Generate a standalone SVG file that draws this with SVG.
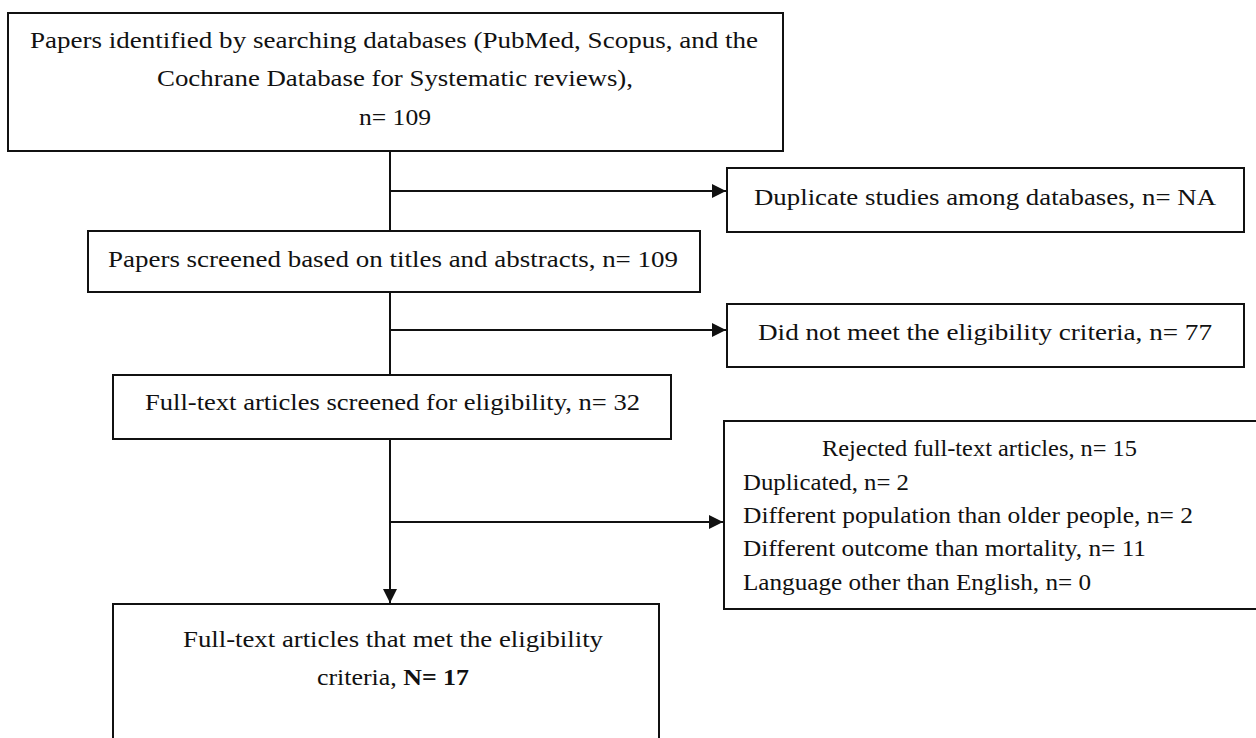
<svg xmlns="http://www.w3.org/2000/svg" width="1256" height="738" viewBox="0 0 1256 738">
<style>
.box{fill:#fff;stroke:#111;stroke-width:2}
.ln{fill:none;stroke:#111;stroke-width:2}
text{font-family:"Liberation Serif","Times New Roman",serif;font-size:24px;fill:#111}
.b{font-weight:bold}
</style>
<defs>
<marker id="ah" markerUnits="userSpaceOnUse" markerWidth="14" markerHeight="14" viewBox="0 0 14 14" refX="14" refY="7" orient="auto">
<path d="M0,0 L14,7 L0,14 Z" fill="#111"/>
</marker>
</defs>
<rect width="1256" height="738" fill="#fff"/>
<g id="connectors">
<line class="ln" x1="390" y1="151" x2="390" y2="231"/>
<line class="ln" x1="390" y1="292" x2="390" y2="375"/>
<line class="ln" x1="390" y1="439" x2="390" y2="603" marker-end="url(#ah)"/>
<line class="ln" x1="390" y1="191" x2="726" y2="191" marker-end="url(#ah)"/>
<line class="ln" x1="390" y1="330" x2="726" y2="330" marker-end="url(#ah)"/>
<line class="ln" x1="390" y1="522" x2="723" y2="522" marker-end="url(#ah)"/>
</g>
<g id="identified">
<rect class="box" x="8" y="13" width="775" height="138"/>
<text x="30" y="48" textLength="728" lengthAdjust="spacingAndGlyphs">Papers identified by searching databases (PubMed, Scopus, and the</text>
<text x="157" y="86" textLength="476" lengthAdjust="spacingAndGlyphs">Cochrane Database for Systematic reviews),</text>
<text x="359" y="125" textLength="72" lengthAdjust="spacingAndGlyphs">n= 109</text>
</g>
<g id="duplicates">
<rect class="box" x="727" y="168" width="517" height="64"/>
<text x="754" y="205" textLength="462" lengthAdjust="spacingAndGlyphs">Duplicate studies among databases, n= NA</text>
</g>
<g id="screened">
<rect class="box" x="88" y="231" width="612" height="61"/>
<text x="108" y="267" textLength="570" lengthAdjust="spacingAndGlyphs">Papers screened based on titles and abstracts, n= 109</text>
</g>
<g id="not-eligible">
<rect class="box" x="727" y="304" width="517" height="63"/>
<text x="758" y="340" textLength="454" lengthAdjust="spacingAndGlyphs">Did not meet the eligibility criteria, n= 77</text>
</g>
<g id="fulltext">
<rect class="box" x="113" y="375" width="558" height="64"/>
<text x="145" y="410" textLength="495" lengthAdjust="spacingAndGlyphs">Full-text articles screened for eligibility, n= 32</text>
</g>
<g id="rejected">
<rect class="box" x="724" y="421" width="545" height="188"/>
<text x="822" y="456" textLength="315" lengthAdjust="spacingAndGlyphs">Rejected full-text articles, n= 15</text>
<text x="743" y="490" textLength="166" lengthAdjust="spacingAndGlyphs">Duplicated, n= 2</text>
<text x="743" y="523" textLength="450" lengthAdjust="spacingAndGlyphs">Different population than older people, n= 2</text>
<text x="743" y="556" textLength="403" lengthAdjust="spacingAndGlyphs">Different outcome than mortality, n= 11</text>
<text x="743" y="590" textLength="348" lengthAdjust="spacingAndGlyphs">Language other than English, n= 0</text>
</g>
<g id="included">
<rect class="box" x="113" y="604" width="546" height="160"/>
<text x="183" y="647" textLength="420" lengthAdjust="spacingAndGlyphs">Full-text articles that met the eligibility</text>
<text x="317" y="685" textLength="152" lengthAdjust="spacingAndGlyphs">criteria, <tspan class="b">N= 17</tspan></text>
</g>
</svg>
